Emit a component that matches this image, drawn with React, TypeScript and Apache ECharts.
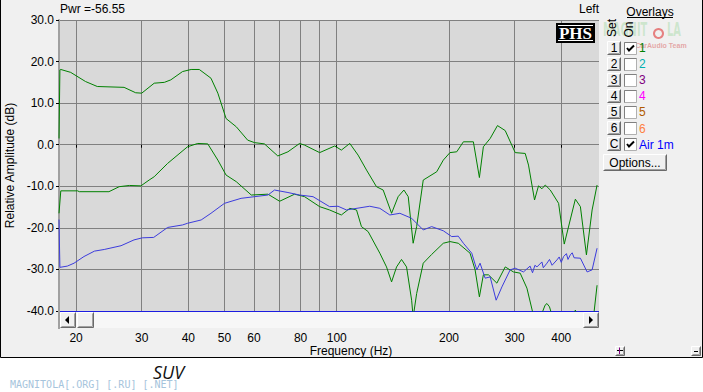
import React, { useEffect, useRef } from "react";
import * as echarts from "echarts";

// ---------- data ----------
const frequencyTicks = [20, 30, 40, 50, 60, 70, 80, 90, 100, 200, 300, 400];
const frequencyLabels = [20, 30, 40, 50, 60, 80, 100, 200, 300, 400];

const overlaySets = ["1", "2", "3", "4", "5", "6", "C"];
const overlayNames = ["1", "2", "3", "4", "5", "6", "Air 1m"];
const overlayColors = ["#008000", "#00b0b0", "#800080", "#ff00ff", "#b05a00", "#ff8040", "#0000ff"];
const overlayOn = [true, false, false, false, false, false, true];

// overlay 1, upper trace: [Hz, dB]
const overlay1Upper: [number, number][] = [
  [18.0, 1.5], [18.1, 18.0], [18.2, 18.1], [19.35, 17.4], [21.2, 15.2], [22.8, 14.0],
  [26.9, 13.8], [28.9, 12.5], [30.0, 12.4], [32.4, 14.8], [34.5, 15.0], [35.9, 15.6],
  [38.6, 17.6], [40.7, 18.1], [42.8, 18.1], [46.0, 16.0], [48.0, 12.4], [50.5, 6.3],
  [53.8, 4.3], [57.7, 1.1], [60.2, 0.5], [64.0, 0.2], [69.5, -2.7], [74.0, -1.7],
  [79.5, 0.3], [82.0, -0.1], [90.0, -1.9], [98.8, -0.3], [102.9, -1.3], [108.4, 0.3],
  [114.1, -2.5], [120.2, -6.1], [127.8, -10.1], [133.2, -10.9], [140.3, -16.5], [146.1, -12.5],
  [151.4, -10.9], [155.5, -12.5], [160.3, -23.7], [163.8, -19.7], [170.6, -8.5], [185.4, -6.5],
  [193.1, -3.7], [201.2, -1.9], [209.8, -1.7], [218.6, 0.7], [232.5, 0.7], [241.3, -7.9],
  [247.3, -0.5], [257.9, 1.5], [269.8, 4.6], [283.0, 3.4], [301.0, -1.9], [320.2, -2.1],
  [326.8, -4.9], [339.2, -13.3], [347.6, -9.9], [355.0, -10.6], [362.4, -9.7], [373.8, -10.9],
  [393.5, -14.1], [407.5, -23.9], [436.4, -13.1], [450.2, -14.9], [467.3, -26.5], [484.0, -15.7],
  [499.0, -9.7],
];

// overlay 1, lower trace: [Hz, dB]
const overlay1Lower: [number, number][] = [
  [18.0, -16.5], [18.2, -11.1], [20.2, -11.1], [20.4, -11.3], [24.5, -11.3], [26.1, -10.1],
  [27.8, -9.8], [29.85, -9.9], [31.4, -8.5], [32.4, -7.7], [35.2, -4.5], [39.8, -0.5],
  [42.4, 0.3], [45.1, 0.2], [48.0, -3.7], [50.5, -7.3], [53.8, -8.9], [59.0, -12.1],
  [65.4, -11.9], [70.3, -13.6], [77.1, -11.9], [82.0, -12.5], [90.0, -14.9], [95.7, -15.7],
  [102.9, -16.9], [108.4, -15.3], [113.0, -15.7], [116.5, -19.7], [121.4, -20.9], [130.5, -26.1],
  [136.0, -29.4], [140.3, -33.0], [144.7, -29.4], [149.2, -27.6], [153.9, -29.4], [158.8, -37.4],
  [160.3, -41.5], [163.8, -35.8], [170.6, -28.5], [179.7, -26.4], [193.1, -23.7], [201.2, -23.3],
  [211.8, -23.7], [227.8, -26.1], [235.0, -30.1], [241.3, -36.6], [247.3, -31.3], [255.2, -31.3],
  [268.8, -33.3], [283.0, -29.4], [297.8, -30.6], [310.4, -30.9], [323.6, -34.5], [335.7, -40.5],
  [350.0, -42.0], [362.0, -38.6], [366.2, -38.2], [372.0, -39.0], [377.7, -41.0], [400.0, -45.0],
  [430.0, -41.0], [436.4, -39.8], [442.0, -41.0], [470.0, -45.0], [488.8, -41.0], [499.0, -33.8],
];

// overlay C, "Air 1m": [Hz, dB]
const air1m: [number, number][] = [
  [18.0, -18.0], [18.1, -29.5], [18.95, -29.2], [19.75, -28.5], [21.0, -26.9], [22.4, -25.6],
  [23.8, -25.2], [26.4, -24.3], [28.6, -22.9], [30.1, -22.4], [32.3, -22.3], [35.2, -19.9],
  [38.6, -19.3], [39.8, -18.9], [43.3, -18.1], [46.0, -16.5], [50.0, -14.1], [55.4, -12.9],
  [60.2, -12.5], [65.4, -12.1], [68.1, -10.9], [74.0, -11.5], [79.5, -12.1], [86.4, -12.5],
  [95.7, -14.9], [100.8, -14.8], [106.2, -15.7], [122.6, -14.8], [130.5, -15.3], [138.8, -16.9],
  [147.7, -16.5], [158.8, -17.7], [170.6, -20.5], [179.7, -19.7], [193.1, -20.7], [203.4, -22.1],
  [211.8, -22.0], [218.6, -23.7], [230.2, -26.1], [237.5, -30.1], [242.3, -28.5], [250.0, -32.1],
  [257.9, -31.8], [267.6, -37.4], [277.3, -34.2], [291.8, -30.1], [301.0, -29.7], [316.8, -30.6],
  [330.0, -29.2], [335.0, -30.8], [340.0, -29.0], [344.3, -29.4], [355.0, -28.2], [358.0, -29.6],
  [366.2, -28.5], [372.0, -27.6], [378.0, -29.0], [389.6, -27.7], [395.0, -27.0], [400.0, -28.3],
  [405.8, -26.9], [413.0, -26.2], [417.0, -27.6], [423.0, -26.5], [428.0, -26.0], [433.0, -27.2],
  [450.2, -27.3], [469.3, -30.6], [484.0, -30.1], [499.0, -24.9],
];

// ---------- styling helpers ----------
const UI_FONT = '"Liberation Sans", Arial, sans-serif';

function txt(x: number, y: number, text: string, opts: any = {}) {
  const align = opts.align || "left";
  return {
    type: "text",
    x,
    y,
    rotation: opts.rotation || 0,
    scaleY: opts.scaleY || 1,
    z: opts.z || 20,
    style: {
      text,
      fill: opts.fill || "#000",
      font: opts.font || `12px ${UI_FONT}`,
      align,
      textAlign: align,
      verticalAlign: "middle",
      textVerticalAlign: "middle",
    },
  };
}

function bevel(x: number, y: number, w: number, h: number, fill = "#f0f0f0") {
  return [
    { type: "rect", z: 10, shape: { x, y, width: w, height: h }, style: { fill } },
    {
      type: "polyline", z: 11,
      shape: { points: [[x + 0.5, y + h - 0.5], [x + 0.5, y + 0.5], [x + w - 0.5, y + 0.5]] },
      style: { stroke: "#ffffff", lineWidth: 1, fill: null },
    },
    {
      type: "polyline", z: 11,
      shape: { points: [[x + 0.5, y + h - 0.5], [x + w - 0.5, y + h - 0.5], [x + w - 0.5, y + 0.5]] },
      style: { stroke: "#6a6a6a", lineWidth: 1, fill: null },
    },
    {
      type: "polyline", z: 11,
      shape: { points: [[x + 1.5, y + h - 1.5], [x + w - 1.5, y + h - 1.5], [x + w - 1.5, y + 1.5]] },
      style: { stroke: "#a0a0a0", lineWidth: 1, fill: null },
    },
  ];
}

function buildGraphics() {
  const g: any[] = [];
  // window frame
  g.push({
    type: "polyline", z: 30,
    shape: { points: [[0.5, 0], [0.5, 357.5], [702.5, 357.5], [702.5, 0]] },
    style: { stroke: "#000", lineWidth: 1, fill: null },
  });
  g.push(txt(60, 9, "Pwr =-56.55"));
  g.push(txt(599, 9, "Left", { align: "right" }));

  // PHS badge
  g.push({ type: "rect", z: 10, shape: { x: 556, y: 23, width: 39, height: 20 }, style: { fill: "#000" } });
  g.push(txt(575.5, 33, "PHS", { align: "center", fill: "#fff", font: `bold 17px "Liberation Serif", serif` }));
  g.push({ type: "line", z: 21, shape: { x1: 558, y1: 25.5, x2: 593, y2: 25.5 }, style: { stroke: "#fff", lineWidth: 1 } });
  g.push({ type: "line", z: 21, shape: { x1: 558, y1: 40.5, x2: 593, y2: 40.5 }, style: { stroke: "#fff", lineWidth: 1 } });

  // left gray rail continues past scrollbar
  g.push({ type: "rect", z: 5, shape: { x: 58, y: 311, width: 2, height: 18 }, style: { fill: "#a0a0a0" } });
  // scrollbar
  g.push({ type: "rect", z: 5, shape: { x: 60, y: 312, width: 539, height: 16 }, style: { fill: "#f7f7f7" } });
  g.push(...bevel(60, 312, 16, 16));
  g.push({ type: "polygon", z: 12, shape: { points: [[65, 320], [69, 316], [69, 324]] }, style: { fill: "#000" } });
  g.push(...bevel(77, 312, 17, 16));
  g.push(...bevel(583, 312, 16, 16));
  g.push({ type: "polygon", z: 12, shape: { points: [[593, 320], [589, 316], [589, 324]] }, style: { fill: "#000" } });

  // x axis title
  g.push(txt(351, 351, "Frequency (Hz)", { align: "center" }));

  // overlays panel watermark (faint)
  const wmFont = `bold 11px "DejaVu Sans Condensed", sans-serif`;
  g.push(txt(603, 29, "MAGNIT", { fill: "rgba(140,210,140,0.35)", font: wmFont, scaleY: 1.8, z: 2 }));
  g.push(txt(667, 29, "LA", { fill: "rgba(140,210,140,0.35)", font: wmFont, scaleY: 1.8, z: 2 }));
  g.push({ type: "ring", z: 2, shape: { cx: 658.5, cy: 33.5, r: 5.5, r0: 3.5 }, style: { fill: "rgba(225,80,80,0.7)" } });
  g.push(txt(661, 45.5, "CarAudio Team", { align: "center", fill: "rgba(215,90,90,0.5)", font: `bold 7px ${UI_FONT}`, z: 2 }));

  // overlays panel
  g.push(txt(650, 12, "Overlays", { align: "center" }));
  g.push({ type: "line", z: 21, shape: { x1: 627, y1: 17.5, x2: 673, y2: 17.5 }, style: { stroke: "#000", lineWidth: 1 } });
  g.push(txt(612, 28, "Set", { align: "center", rotation: Math.PI / 2 }));
  g.push(txt(629, 29.5, "On", { align: "center", rotation: Math.PI / 2 }));

  overlaySets.forEach((s, i) => {
    const cy = 47.5 + i * 16.1;
    g.push(...bevel(607, Math.round(cy - 7), 14, 14));
    g.push(txt(614, cy, s, { align: "center" }));
    const bx = 624, by = Math.round(cy - 6);
    g.push({ type: "rect", z: 10, shape: { x: bx + 0.5, y: by + 0.5, width: 12, height: 12 }, style: { fill: "#fff", stroke: "#b0b0b0", lineWidth: 1 } });
    g.push({
      type: "polyline", z: 11,
      shape: { points: [[bx + 0.5, by + 12.5], [bx + 0.5, by + 0.5], [bx + 12.5, by + 0.5]] },
      style: { stroke: "#808080", lineWidth: 1, fill: null },
    });
    if (overlayOn[i]) {
      g.push({
        type: "polyline", z: 12,
        shape: { points: [[bx + 3, by + 6], [bx + 5, by + 8.5], [bx + 10, by + 3.5]] },
        style: { stroke: "#000", lineWidth: 2, fill: null },
      });
    }
    g.push(txt(639, cy + 0.5, overlayNames[i], { fill: overlayColors[i] }));
  });
  g.push(...bevel(603, 154, 64, 17));
  g.push(txt(635, 162.5, "Options...", { align: "center" }));

  // zoom buttons
  g.push(...bevel(615, 346, 10, 10));
  g.push({ type: "line", z: 12, shape: { x1: 617, y1: 350.5, x2: 623, y2: 350.5 }, style: { stroke: "#000", lineWidth: 1 } });
  g.push({ type: "line", z: 12, shape: { x1: 619.5, y1: 347.5, x2: 619.5, y2: 354 }, style: { stroke: "#800080", lineWidth: 1 } });
  g.push(...bevel(691, 346, 10, 10));
  g.push({ type: "line", z: 12, shape: { x1: 694, y1: 351.5, x2: 698, y2: 351.5 }, style: { stroke: "#000", lineWidth: 1 } });

  // caption below the window
  g.push(txt(153, 372, "SUV", { font: `italic 18px "Open Sans", "Liberation Sans", sans-serif`, fill: "#111" }));
  g.push(txt(10, 384, "MAGNITOLA[.ORG] [.RU] [.NET]", { fill: "#a6c4dc", font: `10px "DejaVu Sans Mono", monospace` }));
  return g;
}

export default function App() {
  const ref = useRef<HTMLDivElement>(null);
  useEffect(() => {
    if (!ref.current) return;
    const chart = echarts.init(ref.current, null, { renderer: "svg" });
    const ySplitColors = ["#1c1ce0", "#808080", "#808080", "#808080", "#808080", "#808080", "#808080", "#808080"];
    chart.setOption({
      animation: false,
      grid: {
        left: 59, top: 20, right: 104, bottom: 81,
        containLabel: false,
        outerBoundsMode: "none",
        show: true, backgroundColor: "#d9d9d9", borderWidth: 0,
      },
      xAxis: {
        type: "log",
        logBase: 10,
        min: 18,
        max: 505,
        offset: 17,
        axisLine: { show: false },
        axisTick: { show: true, length: 3, customValues: frequencyTicks, lineStyle: { color: "#000" } },
        axisLabel: {
          customValues: frequencyLabels,
          margin: 4,
          color: "#000",
          fontSize: 12,
          fontFamily: UI_FONT,
          formatter: (v: number) => String(Math.round(v)),
        },
        splitLine: { show: true, lineStyle: { color: "#808080", width: 1 } },
      },
      yAxis: {
        type: "value",
        min: -40,
        max: 30,
        interval: 10,
        name: "Relative Amplitude (dB)",
        nameLocation: "middle",
        nameGap: 41,
        nameTextStyle: { color: "#000", fontSize: 12, fontFamily: UI_FONT },
        axisLine: { show: true, lineStyle: { color: "#a0a0a0", width: 2 } },
        axisTick: { show: true, length: 3, lineStyle: { color: "#000" } },
        axisLabel: {
          margin: 5,
          color: "#000",
          fontSize: 12,
          fontFamily: UI_FONT,
          formatter: (v: number) => v.toFixed(1),
        },
        splitLine: { show: true, lineStyle: { color: ySplitColors, width: 1 } },
      },
      series: [
        {
          type: "line", name: "1", data: overlay1Upper, symbol: "none", showSymbol: false,
          lineStyle: { color: "#008000", width: 1 }, itemStyle: { color: "#008000" }, clip: true, silent: true,
        },
        {
          type: "line", name: "1 (lower)", data: overlay1Lower, symbol: "none", showSymbol: false,
          lineStyle: { color: "#008000", width: 1 }, itemStyle: { color: "#008000" }, clip: true, silent: true,
        },
        {
          type: "line", name: "Air 1m", data: air1m, symbol: "none", showSymbol: false,
          lineStyle: { color: "#3c3cdc", width: 1 }, itemStyle: { color: "#3c3cdc" }, clip: true, silent: true,
        },
      ],
      graphic: { elements: buildGraphics() },
    });
    return () => chart.dispose();
  }, []);
  return (
    <div
      ref={ref}
      style={{
        position: "absolute",
        left: 0,
        top: 0,
        width: 703,
        height: 392,
        background: "linear-gradient(to bottom, #f0f0f0 0px, #f0f0f0 357px, #ffffff 357px)",
      }}
    />
  );
}
